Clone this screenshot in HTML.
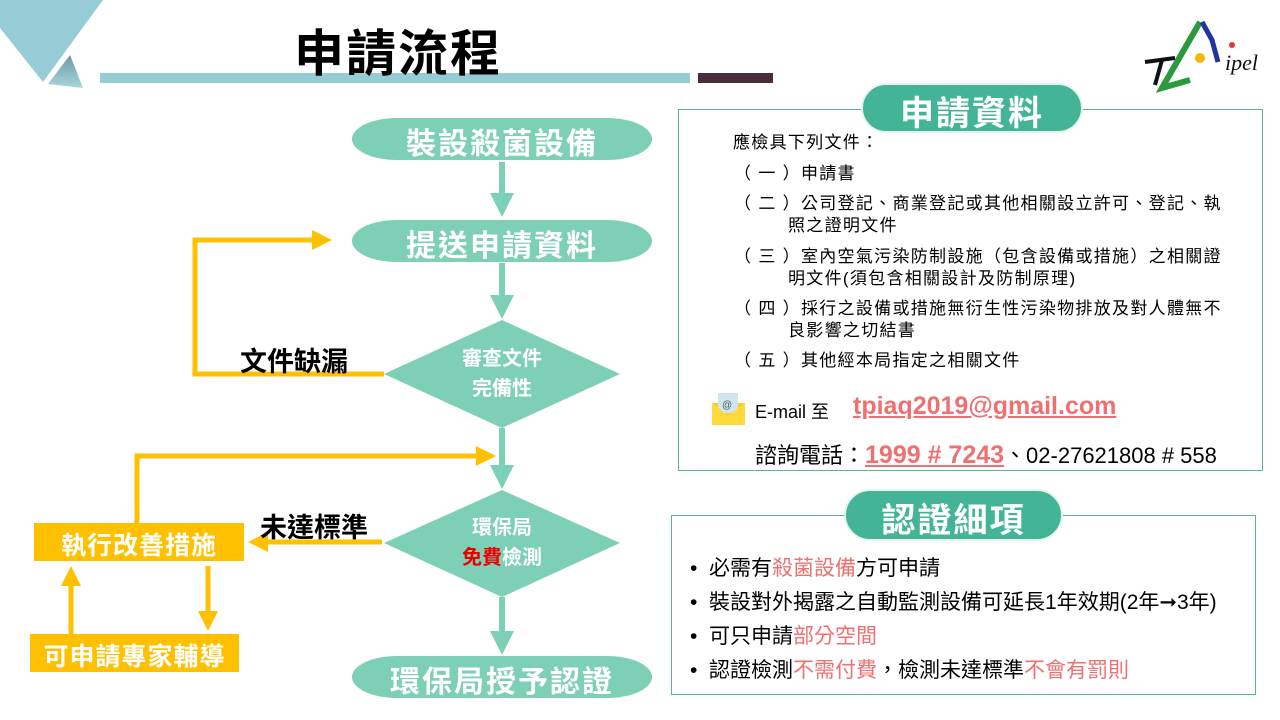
<!DOCTYPE html><html><head><meta charset="utf-8"><style>
body{margin:0;width:1280px;height:720px;background:#fff;position:relative;overflow:hidden;font-family:"Liberation Sans","Noto Sans CJK TC",sans-serif}
.a{position:absolute;white-space:nowrap}
.r{color:#ee7070}
.t{font-size:17px;line-height:22px;letter-spacing:1.3px}
</style></head><body>
<svg class="a" style="left:0;top:0" width="1280" height="720">
<defs><linearGradient id="g" x1="0" y1="0" x2="0" y2="1"><stop offset="0" stop-color="#6b9aa2"/><stop offset="1" stop-color="#a9d6dd"/></linearGradient>
<marker id="mt" markerWidth="4" markerHeight="4" refX="2" refY="2" orient="auto" markerUnits="strokeWidth"><path d="M0,0L4,2L0,4z" fill="#7dcfb6"/></marker>
<marker id="mo" markerWidth="4" markerHeight="4" refX="2" refY="2" orient="auto" markerUnits="strokeWidth"><path d="M0,0L4,2L0,4z" fill="#ffc000"/></marker></defs>
<polygon points="0,0 103,0 43,82 0,28" fill="#96ccd6"/>
<polygon points="70,55 48,84 83,88" fill="url(#g)"/>
<rect x="100" y="73" width="590" height="10" fill="#96ccd6"/>
<rect x="698" y="73" width="75" height="10" fill="#4a2c3a"/>
<path d="M1145,62 L1175,58" stroke="#111" stroke-width="4" fill="none"/><path d="M1162,60 L1155,85" stroke="#111" stroke-width="4"/>
<path d="M1200,22 L1162,88 L1190,80" stroke="#2a9a3c" stroke-width="6" fill="none"/>
<path d="M1202,22 L1212,40 L1218,62" stroke="#2234a0" stroke-width="5" fill="none"/>
<circle cx="1200" cy="58" r="5" fill="#f5b800"/><circle cx="1232" cy="45" r="3" fill="#e33"/>
<text x="1225" y="70" font-size="22" font-style="italic" fill="#111" font-family="Liberation Serif">ipel</text>
<g fill="#7dcfb6">
<rect x="352" y="118" width="300" height="42" rx="45" ry="21"/>
<rect x="352" y="220" width="300" height="42" rx="45" ry="21"/>
<rect x="352" y="656" width="300" height="42" rx="45" ry="21"/>
<polygon points="502,320 620,374 502,428 384,374"/>
<polygon points="502,490 620,543 502,597 384,543"/>
</g>
<g stroke="#7dcfb6" stroke-width="6" fill="none">
<line x1="502" y1="162" x2="502" y2="205" marker-end="url(#mt)"/>
<line x1="502" y1="263" x2="502" y2="307" marker-end="url(#mt)"/>
<line x1="502" y1="428" x2="502" y2="477" marker-end="url(#mt)"/>
<line x1="502" y1="597" x2="502" y2="643" marker-end="url(#mt)"/>
</g>
<g stroke="#ffc000" stroke-width="5" fill="none">
<polyline points="384,374 195,374 195,240 322,240" marker-end="url(#mo)"/>
<polyline points="137,523 137,456 486,456" marker-end="url(#mo)"/>
<line x1="382" y1="542" x2="258" y2="542" marker-end="url(#mo)"/>
<line x1="71" y1="634" x2="71" y2="576" marker-end="url(#mo)"/>
<line x1="208" y1="566" x2="208" y2="621" marker-end="url(#mo)"/>
</g>
<rect x="34" y="523" width="210" height="38" fill="#ffc000"/>
<rect x="30" y="634" width="209" height="38" fill="#ffc000"/>
<rect x="678.5" y="109.5" width="584" height="361" fill="none" stroke="#5ab596"/>
<rect x="671.5" y="515.5" width="584" height="179" fill="none" stroke="#5ab596"/>
<rect x="862" y="84" width="220" height="48" rx="24" fill="#43b596" stroke="#e6f3ef" stroke-width="2"/>
<rect x="845" y="490" width="217" height="50" rx="25" fill="#43b596" stroke="#e6f3ef" stroke-width="2"/>
<rect x="712" y="403" width="33" height="22" fill="#ffcc1a"/><rect x="718" y="393" width="20" height="20" fill="#cfe6f0"/><polygon points="712,403 728,416 745,403 745,425 712,425" fill="#ffd83a"/>
<text x="722" y="408" font-size="10" fill="#555">@</text>
</svg>
<div class="a" style="left:294px;top:14px;font-size:50px;font-weight:bold;letter-spacing:2px">申請流程</div>
<div class="a" style="left:352px;top:119px;width:300px;text-align:center;font-size:30px;color:#fff;font-weight:bold;letter-spacing:2px">裝設殺菌設備</div>
<div class="a" style="left:352px;top:221px;width:300px;text-align:center;font-size:30px;color:#fff;font-weight:bold;letter-spacing:2px">提送申請資料</div>
<div class="a" style="left:352px;top:657px;width:300px;text-align:center;font-size:30px;color:#fff;font-weight:bold;letter-spacing:2px">環保局授予認證</div>
<div class="a" style="left:402px;top:344px;width:200px;text-align:center;font-size:20px;line-height:30px;color:#fff;font-weight:bold">審查文件<br>完備性</div>
<div class="a" style="left:402px;top:513px;width:200px;text-align:center;font-size:20px;line-height:30px;color:#fff;font-weight:bold">環保局<br><span style="color:#e00">免費</span>檢測</div>
<div class="a" style="left:240px;top:340px;font-size:27px;font-weight:bold">文件缺漏</div>
<div class="a" style="left:260px;top:506px;font-size:27px;font-weight:bold">未達標準</div>
<div class="a" style="left:34px;top:526px;width:210px;text-align:center;font-size:25px;color:#fff;font-weight:bold;letter-spacing:1px">執行改善措施</div>
<div class="a" style="left:30px;top:637px;width:209px;text-align:center;font-size:25px;color:#fff;font-weight:bold;letter-spacing:1px">可申請專家輔導</div>
<div class="a" style="left:862px;top:86px;width:220px;text-align:center;font-size:34px;color:#fff;font-weight:bold;letter-spacing:2px">申請資料</div>
<div class="a" style="left:845px;top:493px;width:217px;text-align:center;font-size:34px;color:#fff;font-weight:bold;letter-spacing:2px">認證細項</div>
<div class="a t" style="left:733px;top:132px">應檢具下列文件：</div>
<div class="a t" style="left:734px;top:163px">（ 一 ）申請書</div>
<div class="a t" style="left:734px;top:193px">（ 二 ）公司登記、商業登記或其他相關設立許可、登記、執<br><span style="padding-left:54px">照之證明文件</span></div>
<div class="a t" style="left:734px;top:246px">（ 三 ）室內空氣污染防制設施（包含設備或措施）之相關證<br><span style="padding-left:54px">明文件(須包含相關設計及防制原理)</span></div>
<div class="a t" style="left:734px;top:298px">（ 四 ）採行之設備或措施無衍生性污染物排放及對人體無不<br><span style="padding-left:54px">良影響之切結書</span></div>
<div class="a t" style="left:734px;top:350px">（ 五 ）其他經本局指定之相關文件</div>
<div class="a" style="left:755px;top:398px;font-size:18px">E-mail 至</div>
<div class="a r" style="left:853px;top:392px;font-size:25px;font-weight:bold;text-decoration:underline">tpiaq2019@gmail.com</div>
<div class="a" style="left:755px;top:438px;font-size:22px">諮詢電話：<span class="r" style="font-size:25px;font-weight:bold;text-decoration:underline">1999 # 7243</span>、02-27621808 # 558</div>
<div class="a" style="left:690px;top:552px;font-size:21px;line-height:34px">•&nbsp; 必需有<span class="r">殺菌設備</span>方可申請<br>•&nbsp; 裝設對外揭露之自動監測設備可延長1年效期(2年➞3年)<br>•&nbsp; 可只申請<span class="r">部分空間</span><br>•&nbsp; 認證檢測<span class="r">不需付費</span>，檢測未達標準<span class="r">不會有罰則</span></div>
</body></html>
